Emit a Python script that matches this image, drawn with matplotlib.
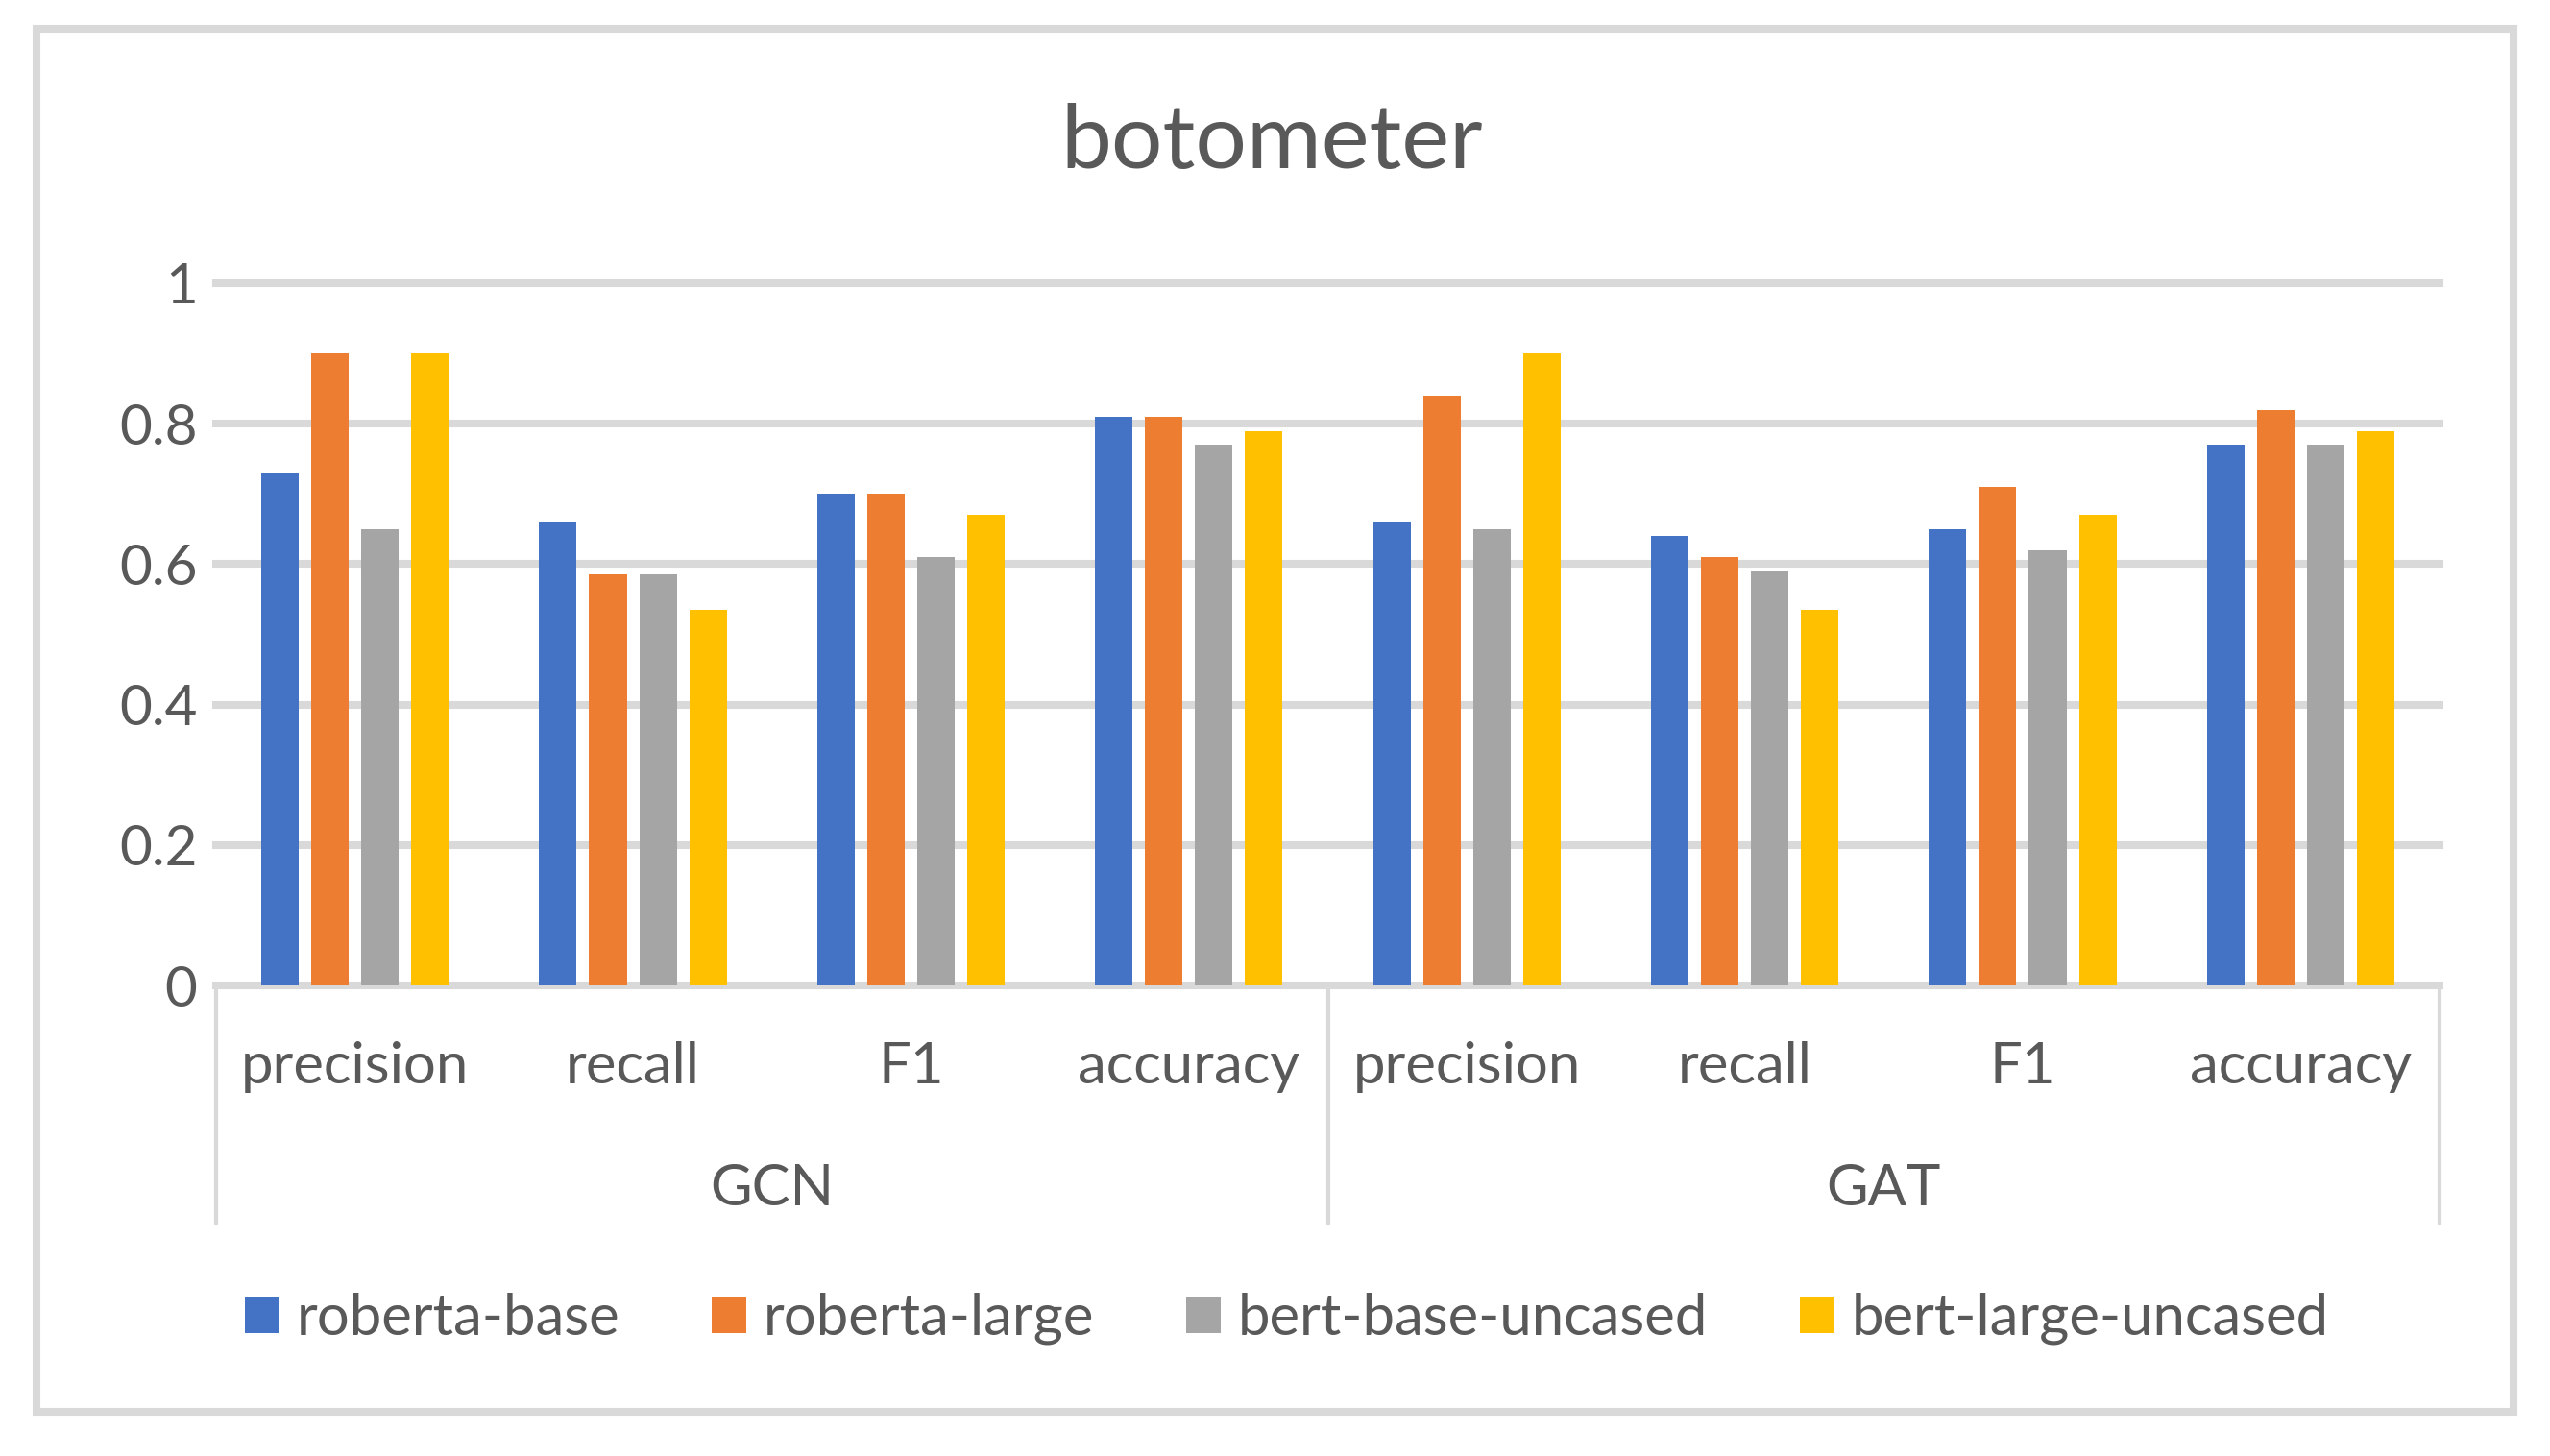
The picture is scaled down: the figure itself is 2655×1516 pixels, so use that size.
import matplotlib.pyplot as plt
from matplotlib.patches import Rectangle
import numpy as np

plt.rcParams["font.family"] = ["Lato", "DejaVu Sans"]

# data
metrics = ["precision", "recall", "F1", "accuracy"]
models = ["GCN", "GAT"]
series_names = ["roberta-base", "roberta-large", "bert-base-uncased", "bert-large-uncased"]
roberta_base = [0.73, 0.66, 0.70, 0.81, 0.66, 0.64, 0.65, 0.77]
roberta_large = [0.90, 0.585, 0.70, 0.81, 0.84, 0.61, 0.71, 0.82]
bert_base_uncased = [0.65, 0.585, 0.61, 0.77, 0.65, 0.59, 0.62, 0.77]
bert_large_uncased = [0.90, 0.535, 0.67, 0.79, 0.90, 0.535, 0.67, 0.79]
y_ticks = [0, 0.2, 0.4, 0.6, 0.8, 1]
y_tick_labels = ["0", "0.2", "0.4", "0.6", "0.8", "1"]

colors = ["#4472C4", "#ED7D31", "#A5A5A5", "#FFC000"]
text_color = "#595959"
grid_color = "#D9D9D9"

W, H = 2655, 1516
fig = plt.figure(figsize=(W / 100, H / 100), dpi=100)

# outer chart border
fig.patches.append(Rectangle((38 / W, 1 - 1470 / H), (2617 - 38) / W, (1470 - 30) / H,
                             transform=fig.transFigure, fill=False,
                             ec=grid_color, lw=5.8))

ax_left, ax_right = 225 / W, 2540 / W
ax_bottom, ax_top = 1 - 1026 / H, 1 - 295 / H
ax = fig.add_axes([ax_left, ax_bottom, ax_right - ax_left, ax_top - ax_bottom])

all_series = [roberta_base, roberta_large, bert_base_uncased, bert_large_uncased]
x = np.arange(len(metrics) * len(models))
bar_w = 0.135
pitch = 0.18
for k, (vals, name) in enumerate(zip(all_series, series_names)):
    ax.bar(x + (k - 1.5) * pitch, vals, width=bar_w, color=colors[k], label=name, zorder=3)

ax.set_xlim(-0.5, len(x) - 0.5)
ax.set_ylim(0, 1)
for yv in y_ticks[1:]:
    ax.axhline(yv, color=grid_color, lw=5.8, zorder=1, clip_on=False)

ax.set_yticks(y_ticks)
ax.set_yticklabels(y_tick_labels)
ax.tick_params(axis="y", length=0, pad=14, labelsize=42, labelcolor=text_color)
ax.set_xticks([])

for side in ["top", "right", "left"]:
    ax.spines[side].set_visible(False)
ax.spines["bottom"].set_color(grid_color)
ax.spines["bottom"].set_linewidth(5.8)

# two-level category axis
ax_h = 1026 - 295
sep_bottom = -(1273 - 1026) / ax_h
for xs in [0, 0.5, 1]:
    ax.plot([xs, xs], [0, sep_bottom], transform=ax.transAxes, color=grid_color,
            lw=3, clip_on=False)

lbl_y = -(1111 - 1026) / ax_h
grp_y = -(1238 - 1026) / ax_h
for i in x:
    ax.text(i, lbl_y, metrics[i % len(metrics)], transform=ax.get_xaxis_transform(),
            ha="center", va="center", fontsize=43, color=text_color)
for g, name in enumerate(models):
    ax.text(0.25 + 0.5 * g, grp_y, name, transform=ax.transAxes,
            ha="center", va="center", fontsize=43, color=text_color)

fig.text(1324 / W, 1 - 149 / H, "botometer", ha="center", va="center",
         fontsize=68, color=text_color)

fig.legend(loc="center", bbox_to_anchor=(1340 / W, 1 - 1373 / H), ncol=4,
           frameon=False, fontsize=43, labelcolor=text_color,
           handlelength=0.6, handleheight=0.6, handletextpad=0.3,
           columnspacing=1.6)

fig.savefig("out.png", dpi=100)
